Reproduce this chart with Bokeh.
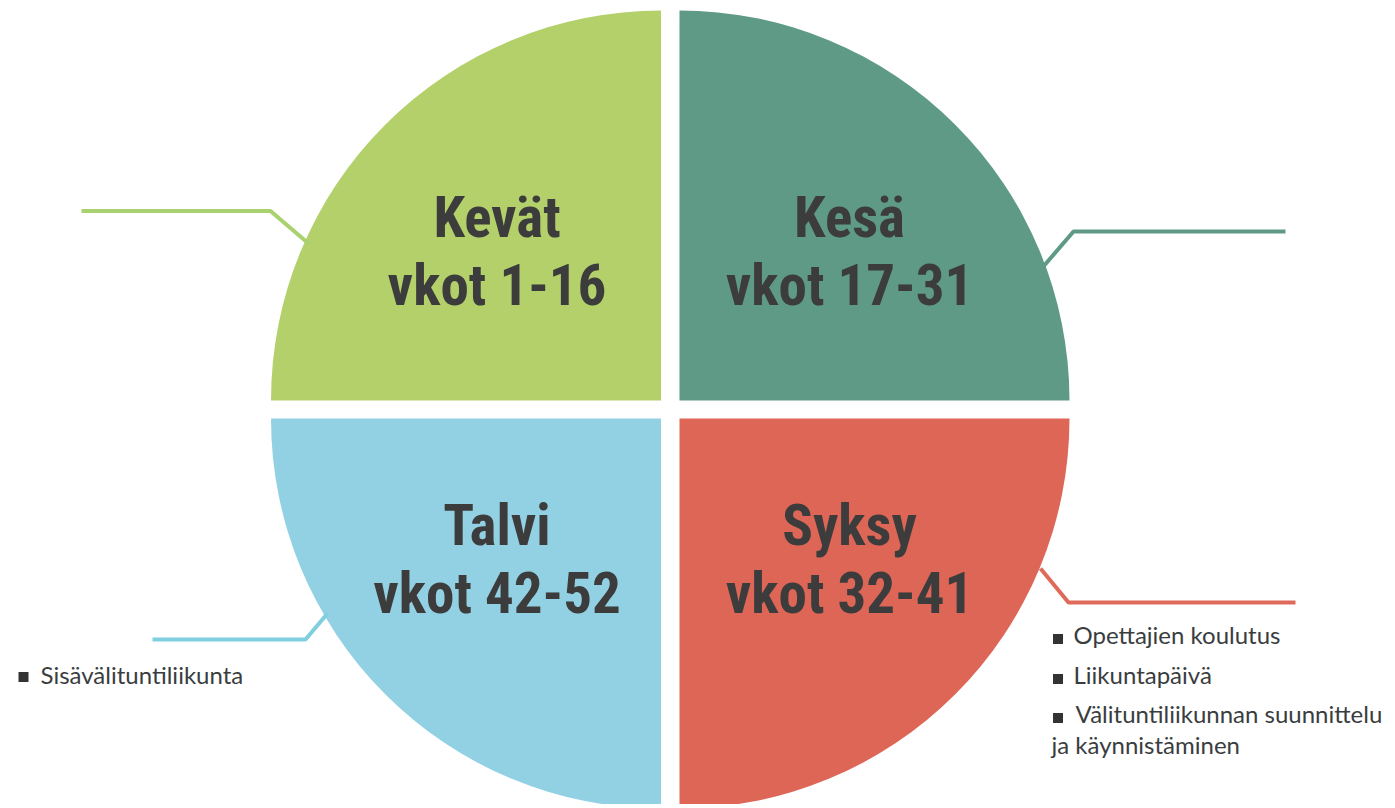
from bokeh.plotting import figure
from bokeh.models import Range1d, ColumnDataSource
from bokeh.embed import file_html
from bokeh.resources import INLINE
from bokeh.core.properties import value

# ---- data ----
seasons = ["Kevät", "Kesä", "Talvi", "Syksy"]
weeks = ["vkot 1-16", "vkot 17-31", "vkot 42-52", "vkot 32-41"]
colors = ["#B3D06B", "#5E9A86", "#92D1E3", "#DE6656"]
line_colors = ["#A9D16F", "#5E9A86", "#7FCFE0", "#E06A5A"]
winter_items = ["Sisävälituntiliikunta"]
autumn_items = ["Opettajien koulutus", "Liikuntapäivä", "Välituntiliikunnan suunnittelu"]
autumn_cont = ["ja käynnistäminen"]

# ---- layout (image pixel coords -> data coords) ----
W, H = 1392, 804

def Y(yi):
    return H - yi

p = figure(width=W, height=H, output_backend="svg", toolbar_location=None,
           x_range=Range1d(0, W), y_range=Range1d(0, H), min_border=0)
p.axis.visible = False
p.grid.visible = False
p.outline_line_color = None
p.background_fill_color = "white"

R = 390
cx = [660.5, 679, 660.5, 679]
cy = [Y(400), Y(400), Y(418), Y(418)]
starts = [90, 0, 180, 270]
ends = [180, 90, 270, 360]
src = ColumnDataSource(dict(x=cx, y=cy, s=starts, e=ends, c=colors))
p.wedge(x="x", y="y", radius=R, start_angle="s", end_angle="e",
        start_angle_units="deg", end_angle_units="deg",
        fill_color="c", line_color=None, source=src)

# season labels
tx = [496.5, 849, 496.5, 849]
off = 20
t1 = [Y(237 - off), Y(237 - off), Y(545 - off), Y(545 - off)]
t2 = [Y(305 - off), Y(305 - off), Y(613 - off), Y(613 - off)]
font = value("Roboto Condensed, DejaVu Sans Condensed, Oswald, Liberation Sans Narrow, Roboto")
p.text(x=tx, y=t1, text=seasons, text_font=font, text_font_style="bold",
       text_font_size="57px", text_align="center", text_baseline="alphabetic",
       text_color="#3C3C3C")
p.text(x=tx, y=t2, text=weeks, text_font=font, text_font_style="bold",
       text_font_size="57px", text_align="center", text_baseline="alphabetic",
       text_color="#3C3C3C")

# leader lines
leaders_x = [[81, 270, 308], [1042, 1073, 1285], [152, 305, 327], [1040, 1068, 1295]]
leaders_y = [[210.5, 210.5, 243], [267, 231, 231], [639, 639, 613], [568, 602, 602]]
for lx, ly, lc in zip(leaders_x, leaders_y, line_colors):
    p.line(x=lx, y=[Y(v) for v in ly], line_color=lc, line_width=4)

# bullet lists
bfont = value("Lato")
tcol = "#3A3D40"
boff = 9
p.text(x=[40], y=[Y(683 - boff)], text=winter_items, text_font=bfont, text_font_size="24px",
       text_baseline="alphabetic", text_color=tcol)
p.scatter(x=[23], y=[Y(676.5)], marker="square", size=10, fill_color="#333333", line_color=None)

ay = [643, 683, 722]
p.text(x=[1073, 1073, 1075], y=[Y(v - boff) for v in ay], text=autumn_items, text_font=bfont,
       text_font_size="24px", text_baseline="alphabetic", text_color=tcol)
p.scatter(x=[1057.5] * 3, y=[Y(v - 4.5) for v in ay], marker="square", size=10,
          fill_color="#333333", line_color=None)
p.text(x=[1051], y=[Y(753 - boff)], text=autumn_cont, text_font=bfont, text_font_size="24px",
       text_baseline="alphabetic", text_color=tcol)

open("out.html", "w").write(file_html(p, INLINE))
